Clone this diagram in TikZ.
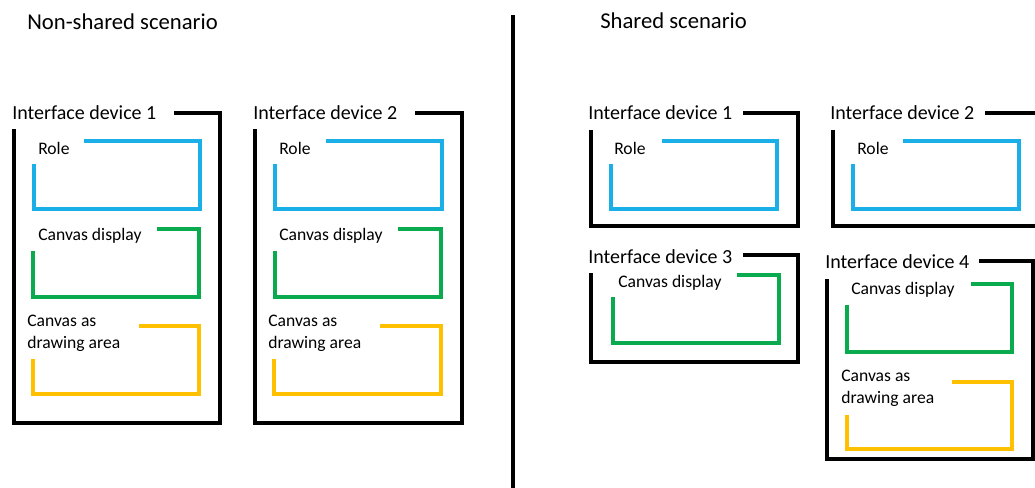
\documentclass[tikz,border=0pt]{standalone}
\usepackage{fontspec}
\setmainfont{Carlito}
\definecolor{roleblue}{HTML}{1AAFE6}
\definecolor{dispgreen}{HTML}{0AAB4E}
\definecolor{areayellow}{HTML}{FFC000}
\tikzset{
  devframe/.style={line width=2.6pt, draw=black},
  rolebox/.style={line width=2.5pt, draw=roleblue},
  dispbox/.style={line width=2.5pt, draw=dispgreen},
  areabox/.style={line width=2.5pt, draw=areayellow},
  title/.style={anchor=west, inner sep=0pt, font=\fontsize{17}{20}\selectfont},
  devlabel/.style={anchor=west, inner sep=0pt, font=\fontsize{15}{18}\selectfont},
  partlabel/.style={anchor=west, inner sep=0pt, align=left, font=\fontsize{13.2}{16.5}\selectfont},
}
\begin{document}
\begin{tikzpicture}[x=0.75pt, y=-0.75pt]
\clip (0,0) rectangle (1035,488);
\fill[white] (0,0) rectangle (1035,488);

% titles and divider
\node[title] (tnon) at (27,22) {Non-shared scenario};
\node[title] (tsh) at (600,21) {Shared scenario};
\draw[line width=2.6pt] (513,15) -- (513,490);

% ---------- Non-shared: device 1 ----------
\node[devlabel] (a1) at (12,113) {Interface device 1};
\draw[devframe] (174,113) -| (220,423) -| (14,129);
\node[partlabel] (a1r) at (38,148) {Role};
\draw[rolebox] (84,141) -| (200,209) -| (34,164);
\node[partlabel] (a1d) at (38,236) {Canvas display};
\draw[dispbox] (157,229) -| (199,297) -| (33,251);
\node[partlabel] (a1a) at (27,333) {Canvas as\\drawing area};
\draw[areabox] (139,326) -| (199,394) -| (33,359);

% ---------- Non-shared: device 2 ----------
\node[devlabel] (a2) at (253,113) {Interface device 2};
\draw[devframe] (415,113) -| (462,423) -| (255,129);
\node[partlabel] (a2r) at (279,148) {Role};
\draw[rolebox] (326,141) -| (442,209) -| (275,164);
\node[partlabel] (a2d) at (279,236) {Canvas display};
\draw[dispbox] (398,229) -| (441,297) -| (275,251);
\node[partlabel] (a2a) at (268,333) {Canvas as\\drawing area};
\draw[areabox] (380,326) -| (441,394) -| (274,359);

% ---------- Shared: device 1 ----------
\node[devlabel] (b1) at (588,113) {Interface device 1};
\draw[devframe] (743,113) -| (798,226) -| (591,130);
\node[partlabel] (b1r) at (614,148) {Role};
\draw[rolebox] (662,141) -| (777,209) -| (611,164);

% ---------- Shared: device 2 ----------
\node[devlabel] (b2) at (830,113) {Interface device 2};
\draw[devframe] (985,113) -| (1045,226) -| (833,130);
\node[partlabel] (b2r) at (857,148) {Role};
\draw[rolebox] (903,141) -| (1019,209) -| (853,164);

% ---------- Shared: device 3 ----------
\node[devlabel] (b3) at (588,257) {Interface device 3};
\draw[devframe] (743,255) -| (798,362) -| (591,273);
\node[partlabel] (b3d) at (618,283) {Canvas display};
\draw[dispbox] (737,275) -| (779,343) -| (613,297);

% ---------- Shared: device 4 ----------
\node[devlabel] (b4) at (825,262) {Interface device 4};
\draw[devframe] (979,261) -| (1033,459) -| (827,279);
\node[partlabel] (b4d) at (851,290) {Canvas display};
\draw[dispbox] (971,284) -| (1012,352) -| (847,305);
\node[partlabel] (b4a) at (841,388) {Canvas as\\drawing area};
\draw[areabox] (952,382) -| (1012,449) -| (847,415);
\end{tikzpicture}
\end{document}
